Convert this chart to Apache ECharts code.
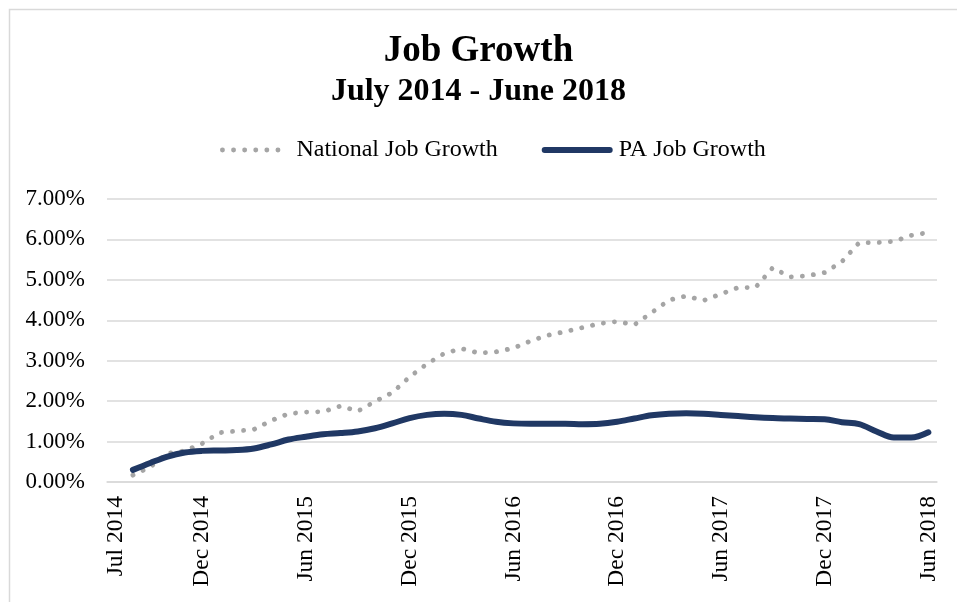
<!DOCTYPE html>
<html>
<head>
<meta charset="utf-8">
<script src="https://cdn.jsdelivr.net/npm/echarts@6/dist/echarts.min.js"></script>
<style>
html,body{margin:0;padding:0;background:#fff;}
#chart{width:957px;height:602px;}
</style>
</head>
<body>
<div id="chart"></div>
<script>
var months = ['Jul 2014','Aug 2014','Sep 2014','Oct 2014','Nov 2014','Dec 2014',
  'Jan 2015','Feb 2015','Mar 2015','Apr 2015','May 2015','Jun 2015',
  'Jul 2015','Aug 2015','Sep 2015','Oct 2015','Nov 2015','Dec 2015',
  'Jan 2016','Feb 2016','Mar 2016','Apr 2016','May 2016','Jun 2016',
  'Jul 2016','Aug 2016','Sep 2016','Oct 2016','Nov 2016','Dec 2016',
  'Jan 2017','Feb 2017','Mar 2017','Apr 2017','May 2017','Jun 2017',
  'Jul 2017','Aug 2017','Sep 2017','Oct 2017','Nov 2017','Dec 2017',
  'Jan 2018','Feb 2018','Mar 2018','Apr 2018','May 2018','Jun 2018'];

var nationalGrowth = [null,
  0.17, 0.37, 0.71, 0.77, 0.95,
  1.22, 1.26, 1.30, 1.52, 1.69, 1.73,
  1.74, 1.88, 1.75, 1.99, 2.21, 2.60,
  2.92, 3.18, 3.30, 3.19, 3.22, 3.31,
  3.49, 3.63, 3.72, 3.82, 3.92, 3.97,
  3.89, 4.19, 4.50, 4.60, 4.49, 4.65,
  4.81, 4.81, 5.30, 5.07, 5.10, 5.18,
  5.45, 5.92, 5.92, 5.95, 6.10, 6.17];

var paGrowth = [null,
  0.30, 0.47, 0.63, 0.73, 0.77,
  0.78, 0.79, 0.83, 0.93, 1.05, 1.12,
  1.18, 1.21, 1.25, 1.33, 1.45, 1.58,
  1.66, 1.69, 1.66, 1.57, 1.49, 1.45,
  1.44, 1.44, 1.44, 1.43, 1.44, 1.49,
  1.57, 1.65, 1.69, 1.70, 1.69, 1.66,
  1.63, 1.60, 1.58, 1.57, 1.56, 1.55,
  1.48, 1.43, 1.25, 1.10, 1.10, 1.23];

var seriesNames = ['National Job Growth', 'PA Job Growth'];
var yTicks = {min: 0, max: 7, step: 1};

var FONT = '"Liberation Serif", "Times New Roman", serif';
var chart = echarts.init(document.getElementById('chart'));
chart.setOption({
  animation: false,
  backgroundColor: '#ffffff',
  graphic: [{
    type: 'rect', left: 7, top: 7, silent: true,
    shape: {width: 960, height: 600},
    style: {fill: 'none', stroke: '#d9d9d9', lineWidth: 1.5}
  }],
  title: [{
    text: 'Job Growth', left: 'center', top: 33, padding: [0, 0, 0, 22],
    textStyle: {fontFamily: FONT, fontSize: 37, fontWeight: 'bold', color: '#000'}
  }, {
    text: 'July 2014 - June 2018', left: 'center', top: 76, padding: [0, 0, 0, 26],
    textStyle: {fontFamily: FONT, fontSize: 32, fontWeight: 'bold', color: '#000'}
  }],
  legend: {
    left: 215, top: 133,
    itemWidth: 65, itemHeight: 14, itemGap: 44,
    itemStyle: {opacity: 0},
    lineStyle: {width: 'inherit'},
    textStyle: {fontFamily: FONT, fontSize: 24, color: '#000', padding: [0, 0, 0, 4]},
    data: seriesNames
  },
  grid: {left: 107, right: 20, top: 199, bottom: 120},
  xAxis: {
    type: 'category',
    data: months,
    boundaryGap: true,
    axisTick: {show: false},
    axisLine: {show: true, lineStyle: {color: '#d9d9d9', width: 1.5}},
    axisLabel: {
      rotate: 90, margin: 14,
      interval: function (idx) { return idx === 0 || idx % 6 === 5; },
      fontFamily: FONT, fontSize: 23.5, color: '#000'
    }
  },
  yAxis: {
    type: 'value', min: yTicks.min, max: yTicks.max, interval: yTicks.step,
    axisLine: {show: false}, axisTick: {show: false},
    splitLine: {lineStyle: {color: '#d9d9d9', width: 1.5}},
    axisLabel: {
      margin: 22, fontFamily: FONT, fontSize: 23, color: '#000',
      formatter: function (v) { return v.toFixed(2) + '%'; }
    }
  },
  series: [{
    name: seriesNames[0], type: 'line', data: nationalGrowth,
    showSymbol: false, symbol: 'none', smooth: false,
    lineStyle: {color: '#a5a5a5', width: 4.8, type: [0.1, 11], cap: 'round'},
    itemStyle: {color: '#a5a5a5'}
  }, {
    name: seriesNames[1], type: 'line', data: paGrowth,
    showSymbol: false, symbol: 'none', smooth: 0.35,
    lineStyle: {color: '#203864', width: 6, cap: 'round'},
    itemStyle: {color: '#203864'}
  }]
});
</script>
</body>
</html>
